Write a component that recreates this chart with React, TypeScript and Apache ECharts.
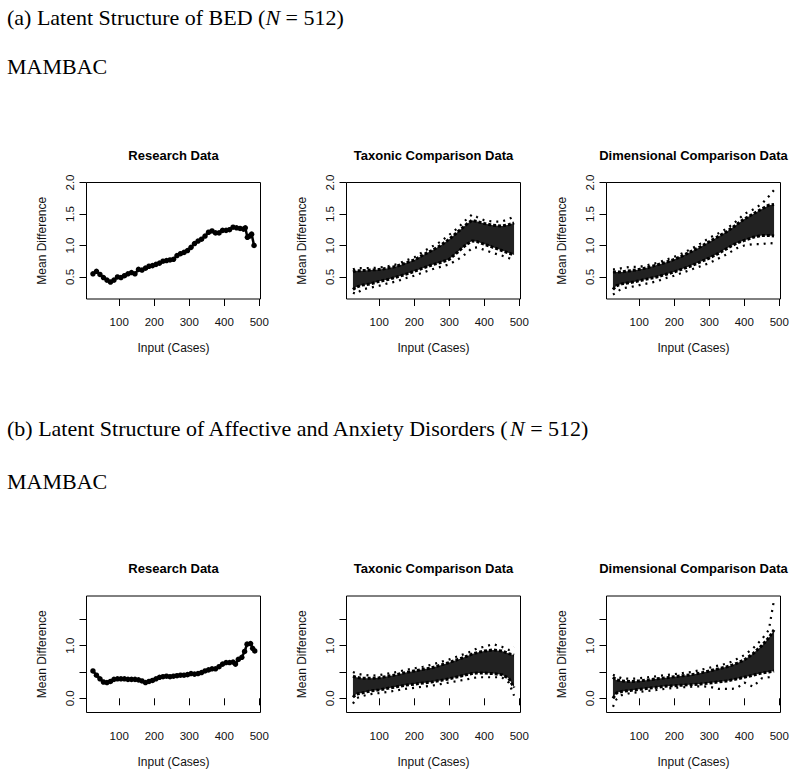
import React, { useEffect, useRef } from 'react';
import * as echarts from 'echarts';

// ---------- tick values ----------
const xTicks = [100, 200, 300, 400, 500];
const yTicksTop = [0.5, 1.0, 1.5, 2.0];
const yLabelsTop = [0.5, 1.0, 1.5, 2.0];
const yTicksBottom = [0.0, 0.5, 1.0, 1.5];
const yLabelsBottom = [0.0, 1.0];

// ---------- (a) BED: research data ----------
const resAX = [25, 35, 45, 55, 65, 75, 85, 95, 105, 115, 125, 135, 145, 155, 165, 175, 185, 195, 205, 215, 225, 235, 245, 255, 265, 275, 285, 295, 305, 315, 325, 335, 345, 355, 365, 375, 385, 395, 405, 415, 425, 435, 445, 455, 460, 466, 472, 478, 485];
const resAY = [0.55, 0.59, 0.54, 0.49, 0.45, 0.42, 0.45, 0.50, 0.49, 0.52, 0.55, 0.57, 0.55, 0.62, 0.61, 0.64, 0.67, 0.68, 0.70, 0.72, 0.75, 0.76, 0.77, 0.78, 0.84, 0.87, 0.89, 0.92, 0.97, 1.03, 1.07, 1.10, 1.15, 1.21, 1.23, 1.20, 1.20, 1.24, 1.24, 1.25, 1.29, 1.28, 1.27, 1.26, 1.28, 1.13, 1.15, 1.18, 1.00];

// ---------- (b) Affective/Anxiety: research data ----------
const resBX = [25, 35, 45, 55, 65, 75, 85, 95, 105, 115, 125, 135, 145, 155, 165, 175, 185, 195, 205, 215, 225, 235, 245, 255, 265, 275, 285, 295, 305, 315, 325, 335, 345, 355, 365, 375, 385, 395, 405, 415, 425, 432, 440, 450, 458, 465, 475, 481, 487];
const resBY = [0.52, 0.44, 0.37, 0.31, 0.30, 0.32, 0.36, 0.37, 0.37, 0.37, 0.36, 0.36, 0.36, 0.35, 0.33, 0.30, 0.32, 0.34, 0.37, 0.40, 0.41, 0.42, 0.41, 0.42, 0.43, 0.44, 0.44, 0.45, 0.47, 0.46, 0.47, 0.49, 0.52, 0.54, 0.56, 0.56, 0.60, 0.65, 0.68, 0.68, 0.69, 0.65, 0.74, 0.78, 0.89, 1.03, 1.04, 0.95, 0.90];

// ---------- comparison data envelopes ----------
const compX = [25, 35, 50, 75, 100, 125, 150, 175, 200, 225, 250, 275, 300, 325, 350, 365, 380, 400, 425, 450, 470, 485];

const taxAMin = [0.25, 0.23, 0.30, 0.33, 0.36, 0.40, 0.43, 0.48, 0.52, 0.57, 0.62, 0.66, 0.70, 0.78, 0.88, 0.96, 0.97, 0.93, 0.88, 0.84, 0.80, 0.78];
const taxALow = [0.30, 0.34, 0.37, 0.39, 0.43, 0.46, 0.50, 0.54, 0.59, 0.64, 0.69, 0.73, 0.78, 0.90, 1.02, 1.07, 1.06, 1.02, 0.97, 0.92, 0.88, 0.85];
const taxAHigh = [0.58, 0.60, 0.60, 0.61, 0.62, 0.64, 0.67, 0.72, 0.77, 0.85, 0.92, 1.00, 1.10, 1.22, 1.34, 1.40, 1.38, 1.35, 1.32, 1.31, 1.33, 1.36];
const taxAMax = [0.62, 0.64, 0.64, 0.64, 0.65, 0.67, 0.70, 0.76, 0.81, 0.90, 0.98, 1.06, 1.17, 1.28, 1.42, 1.49, 1.45, 1.40, 1.38, 1.38, 1.42, 1.46];

const dimAMin = [0.22, 0.25, 0.32, 0.34, 0.37, 0.40, 0.43, 0.48, 0.52, 0.57, 0.62, 0.67, 0.72, 0.79, 0.86, 0.91, 0.96, 1.00, 1.02, 1.02, 1.04, 1.03];
const dimALow = [0.30, 0.36, 0.39, 0.41, 0.44, 0.47, 0.50, 0.54, 0.58, 0.63, 0.68, 0.74, 0.80, 0.87, 0.95, 1.00, 1.04, 1.08, 1.13, 1.16, 1.16, 1.15];
const dimAHigh = [0.58, 0.58, 0.58, 0.60, 0.62, 0.65, 0.69, 0.73, 0.78, 0.84, 0.91, 0.98, 1.06, 1.14, 1.22, 1.28, 1.34, 1.42, 1.50, 1.58, 1.64, 1.65];
const dimAMax = [0.62, 0.62, 0.64, 0.66, 0.66, 0.69, 0.72, 0.77, 0.82, 0.88, 0.95, 1.03, 1.12, 1.19, 1.27, 1.33, 1.40, 1.50, 1.57, 1.66, 1.78, 1.88];

const taxBMin = [-0.10, 0.00, 0.04, 0.08, 0.10, 0.12, 0.15, 0.18, 0.20, 0.22, 0.24, 0.27, 0.30, 0.33, 0.36, 0.38, 0.40, 0.40, 0.40, 0.40, 0.30, 0.05];
const taxBLow = [0.02, 0.08, 0.10, 0.14, 0.16, 0.19, 0.22, 0.25, 0.27, 0.29, 0.31, 0.34, 0.37, 0.41, 0.45, 0.47, 0.48, 0.48, 0.47, 0.45, 0.38, 0.20];
const taxBHigh = [0.42, 0.40, 0.38, 0.38, 0.39, 0.42, 0.45, 0.49, 0.52, 0.55, 0.58, 0.63, 0.68, 0.74, 0.80, 0.84, 0.87, 0.90, 0.92, 0.90, 0.85, 0.82];
const taxBMax = [0.50, 0.47, 0.45, 0.43, 0.44, 0.47, 0.50, 0.54, 0.57, 0.60, 0.64, 0.69, 0.74, 0.80, 0.86, 0.90, 0.95, 0.98, 1.03, 0.98, 0.92, 0.98];

const dimBMin = [-0.16, -0.02, 0.06, 0.10, 0.12, 0.14, 0.16, 0.18, 0.20, 0.21, 0.22, 0.23, 0.22, 0.18, 0.18, 0.18, 0.20, 0.30, 0.22, 0.38, 0.40, 0.42];
const dimBLow = [0.00, 0.10, 0.13, 0.15, 0.17, 0.19, 0.21, 0.23, 0.24, 0.25, 0.26, 0.27, 0.29, 0.31, 0.33, 0.35, 0.37, 0.40, 0.44, 0.48, 0.50, 0.52];
const dimBHigh = [0.40, 0.35, 0.33, 0.32, 0.33, 0.35, 0.37, 0.39, 0.41, 0.43, 0.45, 0.48, 0.52, 0.56, 0.60, 0.63, 0.67, 0.73, 0.85, 1.00, 1.15, 1.30];
const dimBMax = [0.45, 0.42, 0.38, 0.37, 0.38, 0.40, 0.42, 0.44, 0.46, 0.48, 0.50, 0.54, 0.58, 0.62, 0.66, 0.70, 0.75, 0.82, 0.95, 1.12, 1.30, 1.87];

// ---------- texts ----------
const panelTitles = ['Research Data', 'Taxonic Comparison Data', 'Dimensional Comparison Data'];
const xName = 'Input (Cases)';
const yName = 'Mean Difference';

const SANS = '"Liberation Sans", Arial, sans-serif';
const SERIF = '"Liberation Serif", "Times New Roman", serif';

const COL_LEFT = [86.5, 346.5, 606.5];
const ROW_TOP = [182.5, 596];
const GRID_W = 174;
const ROW_H = [116.5, 116.5];
const X_RANGE = [6.6, 503.4];
const Y_RANGE = [[0.15, 2.0], [-0.27, 1.945]];

function pairs(xs: number[], ys: number[]) {
  return xs.map((x, i) => [x, ys[i]]);
}

function buildOption() {
  const grid: any[] = [];
  const xAxis: any[] = [];
  const yAxis: any[] = [];
  const series: any[] = [];
  const graphic: any[] = [];

  for (let r = 0; r < 2; r++) {
    for (let c = 0; c < 3; c++) {
      const gi = r * 3 + c;
      grid.push({
        left: COL_LEFT[c],
        top: ROW_TOP[r],
        width: GRID_W,
        height: ROW_H[r],
        show: true,
        borderColor: '#000',
        borderWidth: 1,
        backgroundColor: 'transparent',
        containLabel: false,
      });
      xAxis.push({
        type: 'value',
        gridIndex: gi,
        min: X_RANGE[0],
        max: X_RANGE[1],
        axisLine: { show: false },
        splitLine: { show: false },
        axisTick: { show: true, inside: false, length: 7, customValues: xTicks, lineStyle: { color: '#000', width: 1 } },
        axisLabel: { show: true, customValues: xTicks, margin: 17, color: '#111', fontSize: 11.5, fontFamily: SANS },
        name: xName,
        nameLocation: 'middle',
        nameGap: 43,
        nameTextStyle: { color: '#111', fontSize: 12, fontFamily: SANS },
      });
      yAxis.push({
        type: 'value',
        gridIndex: gi,
        min: Y_RANGE[r][0],
        max: Y_RANGE[r][1],
        axisLine: { show: false },
        splitLine: { show: false },
        axisTick: { show: true, inside: false, length: 7, customValues: r === 0 ? yTicksTop : yTicksBottom, lineStyle: { color: '#000', width: 1 } },
        axisLabel: {
          show: true,
          customValues: r === 0 ? yLabelsTop : yLabelsBottom,
          rotate: 90,
          margin: 11,
          color: '#111',
          fontSize: 11.5,
          fontFamily: SANS,
          formatter: (v: number) => v.toFixed(1),
        },
        name: yName,
        nameLocation: 'middle',
        nameGap: 39,
        nameRotate: 90,
        nameTextStyle: { color: '#111', fontSize: 12, fontFamily: SANS },
      });
      graphic.push({
        type: 'text',
        x: COL_LEFT[c] + GRID_W / 2,
        y: ROW_TOP[r] - 27.5,
        style: { text: panelTitles[c], fill: '#000', font: `bold 13px ${SANS}`, align: 'center', verticalAlign: 'middle' },
        silent: true,
      });
    }
  }

  const research = [
    { gi: 0, xs: resAX, ys: resAY },
    { gi: 3, xs: resBX, ys: resBY },
  ];
  research.forEach((d) => {
    series.push({
      type: 'line',
      xAxisIndex: d.gi,
      yAxisIndex: d.gi,
      data: pairs(d.xs, d.ys),
      symbol: 'circle',
      symbolSize: 5.5,
      showSymbol: true,
      itemStyle: { color: '#000' },
      lineStyle: { color: '#000', width: 2.5 },
      silent: true,
      z: 3,
    });
  });

  const comps = [
    { gi: 1, mn: taxAMin, lo: taxALow, hi: taxAHigh, mx: taxAMax },
    { gi: 2, mn: dimAMin, lo: dimALow, hi: dimAHigh, mx: dimAMax },
    { gi: 4, mn: taxBMin, lo: taxBLow, hi: taxBHigh, mx: taxBMax },
    { gi: 5, mn: dimBMin, lo: dimBLow, hi: dimBHigh, mx: dimBMax },
  ];
  comps.forEach((d) => {
    const lo = d.lo;
    const hi = d.hi;
    // band between low and high envelopes, positioned with the axis scales
    series.push({
      type: 'custom',
      xAxisIndex: d.gi,
      yAxisIndex: d.gi,
      data: compX.map((x, i) => [x, lo[i], hi[i]]),
      encode: { x: 0, y: [1, 2] },
      silent: true,
      z: 2,
      renderItem: (params: any, api: any) => {
        if (params.dataIndex !== 0) return null;
        const top = compX.map((x, i) => api.coord([x, hi[i]]));
        const bot = compX.map((x, i) => api.coord([x, lo[i]])).reverse();
        return {
          type: 'polygon',
          shape: { points: top.concat(bot) },
          style: { fill: '#222', stroke: 'none' },
        };
      },
    });
    [d.lo, d.hi].forEach((arr) => {
      series.push({
        type: 'line',
        xAxisIndex: d.gi,
        yAxisIndex: d.gi,
        data: pairs(compX, arr),
        symbol: 'none',
        lineStyle: { color: '#000', width: 3, type: [3, 2] },
        silent: true,
        z: 3,
      });
    });
    [d.mn, d.mx].forEach((arr) => {
      series.push({
        type: 'line',
        xAxisIndex: d.gi,
        yAxisIndex: d.gi,
        data: pairs(compX, arr),
        symbol: 'none',
        lineStyle: { color: '#000', width: 2.2, type: [2, 5] },
        silent: true,
        z: 3,
      });
    });
  });

  // headings
  const headStyle = (text: string, y: number) => ({
    type: 'text',
    x: 7,
    y,
    style: {
      text,
      fill: '#000',
      fontSize: 22,
      fontFamily: SERIF,
      align: 'left',
      verticalAlign: 'middle',
      rich: { i: { fontStyle: 'italic', fontSize: 22, fontFamily: SERIF, fill: '#000' } },
    },
    silent: true,
  });
  graphic.push(headStyle('(a) Latent Structure of BED ({i|N} = 512)', 17));
  graphic.push(headStyle('MAMBAC', 66.5));
  graphic.push(headStyle('(b) Latent Structure of Affective and Anxiety Disorders ({i|N} = 512)', 428.5));
  graphic.push(headStyle('MAMBAC', 481.5));

  return {
    animation: false,
    backgroundColor: '#fff',
    grid,
    xAxis,
    yAxis,
    series,
    graphic,
  };
}

export default function App() {
  const ref = useRef<HTMLDivElement>(null);
  useEffect(() => {
    if (!ref.current) return;
    const chart = echarts.init(ref.current, undefined, { renderer: 'svg' });
    chart.setOption(buildOption() as any);
    return () => chart.dispose();
  }, []);
  return <div ref={ref} style={{ position: 'fixed', left: 0, top: 0, width: 800, height: 776, background: '#fff' }} />;
}
